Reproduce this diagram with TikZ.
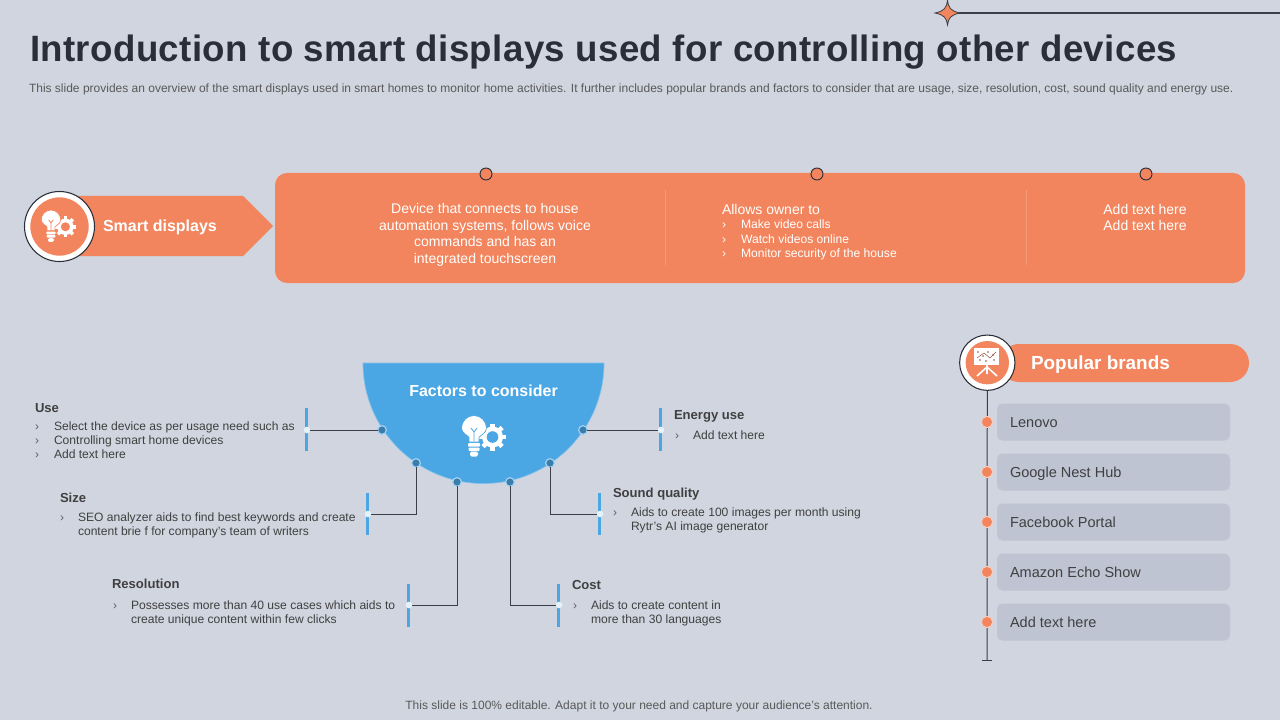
\documentclass[tikz,border=0pt]{standalone}
\usepackage{fontspec}
\setmainfont{Liberation Sans}
\definecolor{bgc}{HTML}{D0D5DF}
\definecolor{orangec}{HTML}{F2855D}
\definecolor{bluec}{HTML}{4BA6E4}
\definecolor{greyc}{HTML}{BEC4D2}
\definecolor{darkc}{HTML}{2A2E38}
\definecolor{linec}{HTML}{3A3F48}
\definecolor{textc}{HTML}{404040}
\definecolor{subc}{HTML}{595959}
\newcommand{\fs}[1]{\fontsize{#1}{#1}\selectfont}
\newcommand{\bulbgear}[4]{%
\begin{scope}[shift={(#1,#2)},scale=#3]
 \fill[white] (9.5,1) circle (10.5);
 \foreach \a in {0,45,...,315}{\fill[white,rotate around={\a:(9.5,1)}] (7.2,-12.5) rectangle (11.8,-7);}
 \fill[#4] (9.5,1) circle (5.8);
 \fill[white,draw=#4,line width=.5pt] (-4,6) -- (-14,6) -- (-14,1.5) .. controls (-14.5,-.5) and (-21.5,-2.5) .. (-21.5,-8) .. controls (-21.5,-15) and (-15.5,-20.5) .. (-9,-20.5) .. controls (-2.5,-20.5) and (3.5,-15) .. (3.5,-8) .. controls (3.5,-2.5) and (-3.5,-.5) .. (-4,1.5) -- cycle;
 \draw[#4,line width=.6pt] (-12,-8) -- (-9,-4) -- (-6,-8) (-9,-4) -- (-9,5);
 \fill[white,rounded corners=.6pt] (-15,7.2) rectangle (-3,10.6);
 \fill[white,rounded corners=.6pt] (-14.5,11.5) rectangle (-3.5,15);
 \fill[white,rounded corners=1.2pt] (-13,15.5) rectangle (-5,20.5);
\end{scope}}
\tikzset{
 x=.75pt,y=-.75pt,
 every node/.style={inner sep=0pt,outer sep=0pt},
 stdline/.style={text height=6.5pt,text depth=0pt},
 body/.style={font=\fs{9.07},text=textc,anchor=west,align=left},
 bodysingle/.style={body,stdline},
 bodyline/.style={body,font=\fontsize{9.07}{10.5}\selectfont},
 headtext/.style={font=\bfseries\fs{9.8},text=textc,anchor=west,text height=7pt,text depth=0pt},
 chev/.style={font=\fs{9},text=textc!85,anchor=west,stdline},
 whitetext/.style={font=\fontsize{10.5}{12.4}\selectfont,text=white,align=center},
 whitesmall/.style={font=\fs{9.1},text=white,anchor=west,stdline},
 barline/.style={bluec,line width=2.4pt},
 conn/.style={draw=linec,line width=.75pt},
 hub/.style={circle,minimum size=6.5pt,fill=bluec!75!black,draw=white!50!bluec,line width=.9pt},
 endpt/.style={circle,minimum size=5pt,fill=white!85!bluec},
 brandbox/.style={fill=greyc,rounded corners=4pt,minimum width=174.75pt,minimum height=27.75pt,anchor=west},
 brandtext/.style={font=\fs{10.9},text=textc,anchor=west,text height=7.8pt,text depth=0pt},
 branddot/.style={circle,minimum size=8.5pt,fill=orangec,draw=white!60!orangec,line width=.7pt},
 topdot/.style={circle,minimum size=9pt,fill=orangec,draw=darkc,line width=.7pt},
 sep/.style={draw=white!18!orangec,line width=.5pt},
}
\begin{document}
\begin{tikzpicture}
\useasboundingbox (0,0) rectangle (1280,720);
\fill[bgc] (0,0) rectangle (1280,720);
% top ornament
\coordinate (lineend) at (1280,13);
\node[inner sep=0pt,minimum size=1pt] (star) at (947,13) {};
\draw[linec,line width=.8pt] (star) -- (lineend);
\fill[orangec,draw=linec,line width=.6pt] (947.5,0) .. controls (948.5,8) and (950.5,11) .. (960,13) .. controls (950.5,15) and (948.5,18) .. (947.5,25) .. controls (946.5,18) and (944.5,15) .. (935,13) .. controls (944.5,11) and (946.5,8) .. cycle;
% title
\node[anchor=west,font={\addfontfeature{LetterSpace=1}\bfseries\fs{27.5}},text=darkc,text height=19.8pt,text depth=0pt] (title) at (30,48) {Introduction to smart displays used for controlling other devices};
\node[anchor=west,font=\fs{9},text=subc,stdline] (subtitle) at (29,88) {This slide provides an overview of the smart displays used in smart homes to monitor home activities. It further includes popular brands and factors to consider that are usage, size, resolution, cost, sound quality and energy use.};
% smart displays
\fill[orangec] (60,196) -- (243,196) -- (273,226) -- (243,256) -- (60,256) -- cycle;
\node[circle,minimum size=52.5pt,fill=white,draw=darkc,line width=.8pt] (sdring) at (59.5,226.5) {};
\node[circle,minimum size=43.75pt,fill=orangec] (sdcore) at (59.5,226.5) {};
\bulbgear{58}{226}{.78}{orangec}
\node[anchor=west,font=\bfseries\fs{12},text=white,text height=8.6pt,text depth=0pt] (sdlabel) at (103,226) {Smart displays};
% main panel
\node[fill=orangec,rounded corners=9pt,minimum width=727.5pt,minimum height=82.5pt,anchor=north west] (panel) at (275,173) {};
\draw[sep] (665,190) -- (665,265);
\draw[sep] (1026,190) -- (1026,265);
\node[topdot] (d1) at (486,174) {};
\node[topdot] (d2) at (817,174) {};
\node[topdot] (d3) at (1146,174) {};
\node[whitetext] (p1) at (485,235) {Device that connects to house\\automation systems, follows voice\\commands and has an\\integrated touchscreen};
\node[whitetext,anchor=west] (p2) at (722,209) {Allows owner to};
\node[whitesmall] (p2m1) at (722,224) {›};
\node[whitesmall] (p2t1) at (741,224) {Make video calls};
\node[whitesmall] (p2m2) at (722,239) {›};
\node[whitesmall] (p2t2) at (741,239) {Watch videos online};
\node[whitesmall] (p2m3) at (722,253) {›};
\node[whitesmall] (p2t3) at (741,253) {Monitor security of the house};
\node[whitetext] (p3) at (1145,217.5) {Add text here\\Add text here};
% factors
\fill[bluec,draw=white!30!bluec,line width=.5pt] (363,363) arc (180:0:120.5) -- cycle;
\node[font=\bfseries\fs{12},text=white] (factors) at (483.5,391) {Factors to consider};
\bulbgear{483}{436}{1}{bluec}
\node[hub] (h1) at (382,430) {};
\node[hub] (h2) at (416,463) {};
\node[hub] (h3) at (457,482) {};
\node[hub] (h4) at (510,482) {};
\node[hub] (h5) at (550,463) {};
\node[hub] (h6) at (583,430) {};
\draw[barline] (306.3,408) -- (306.3,451);
\draw[barline] (367.3,493) -- (367.3,535);
\draw[barline] (408.3,584) -- (408.3,627);
\draw[barline] (558.3,584) -- (558.3,627);
\draw[barline] (599.3,493) -- (599.3,535);
\draw[barline] (660.3,408) -- (660.3,451);
\node[endpt] (e1) at (307,430) {};
\node[endpt] (e2) at (368,514) {};
\node[endpt] (e3) at (409,605) {};
\node[endpt] (e4) at (559,605) {};
\node[endpt] (e5) at (600,514) {};
\node[endpt] (e6) at (661,430) {};
\draw[conn] (h1) -- (e1);
\draw[conn] (h2) |- (e2);
\draw[conn] (h3) |- (e3);
\draw[conn] (h4) |- (e4);
\draw[conn] (h5) |- (e5);
\draw[conn] (h6) -- (e6);
% Use
\node[headtext] (uh) at (35,407.5) {Use};
\node[chev] (um1) at (35,426) {›};
\node[chev] (um2) at (35,440) {›};
\node[chev] (um3) at (35,454) {›};
\node[bodysingle] (ut1) at (54,426) {Select the device as per usage need such as};
\node[bodysingle] (ut2) at (54,440) {Controlling smart home devices};
\node[bodysingle] (ut3) at (54,454) {Add text here};
% Size
\node[headtext] (sh) at (60,497.5) {Size};
\node[chev] (sm) at (60,517) {›};
\node[bodyline] (st) at (78,525) {SEO analyzer aids to find best keywords and create\\content brie f for company’s team of writers};
% Resolution
\node[headtext] (rh) at (112,583.5) {Resolution};
\node[chev] (rm) at (113,605) {›};
\node[bodyline] (rt) at (131,613) {Possesses more than 40 use cases which aids to\\create unique content within few clicks};
% Energy
\node[headtext] (eh) at (674,414.5) {Energy use};
\node[chev] (em) at (675,435) {›};
\node[bodysingle] (et) at (693,435) {Add text here};
% Sound
\node[headtext] (qh) at (613,492.5) {Sound quality};
\node[chev] (qm) at (613,512) {›};
\node[bodyline] (qt) at (631,520) {Aids to create 100 images per month using\\Rytr’s AI image generator};
% Cost
\node[headtext] (ch) at (572,584.5) {Cost};
\node[chev] (cm) at (573,605) {›};
\node[bodyline] (ct) at (591,613) {Aids to create content in\\more than 30 languages};
% brands
\node[fill=orangec,rounded corners=14.25pt,minimum width=186.75pt,minimum height=28.5pt,anchor=west] (pill) at (1000,363) {};
\coordinate (railend) at (987,660);
\node[circle,minimum size=41.5pt,fill=white,draw=darkc,line width=.8pt] (bring) at (987.3,362.7) {};
\draw[conn] (bring) -- (railend);
\coordinate (tickl) at (982,660);
\coordinate (tickr) at (992,660);
\draw[conn] (tickl) -- (tickr);
\node[circle,minimum size=32.5pt,fill=orangec] (bcore) at (987.3,362.7) {};
\fill[white] (974,348) rectangle (999,365);
\draw[white,line width=1.2pt] (987,364) -- (987,369) (987,367) -- (977,376) (987,367) -- (997,376) (987,367) -- (987,374);
\foreach \px/\py in {978/352,983/356,988/352,993/355,980/360,986/361,994/360}{\fill[orangec!60!black] (\px,\py) circle (.9);}
\draw[orangec!60!black,line width=.35pt] (977,358) -- (984,353) -- (990,358) -- (996,352);
\node[anchor=west,font=\bfseries\fs{14.2},text=white,text height=10.2pt,text depth=0pt] (pb) at (1031,363) {Popular brands};
\node[brandbox] (b1) at (997,422) {};
\node[brandbox] (b2) at (997,472) {};
\node[brandbox] (b3) at (997,522) {};
\node[brandbox] (b4) at (997,572) {};
\node[brandbox] (b5) at (997,622) {};
\node[branddot] (o1) at (987,422) {};
\node[branddot] (o2) at (987,472) {};
\node[branddot] (o3) at (987,522) {};
\node[branddot] (o4) at (987,572) {};
\node[branddot] (o5) at (987,622) {};
\node[brandtext] (t1) at (1010,422) {Lenovo};
\node[brandtext] (t2) at (1010,472) {Google Nest Hub};
\node[brandtext] (t3) at (1010,522) {Facebook Portal};
\node[brandtext] (t4) at (1010,572) {Amazon Echo Show};
\node[brandtext] (t5) at (1010,622) {Add text here};
% footer
\node[font=\fs{9},text=subc,stdline] (foot) at (639,705) {This slide is 100\% editable. Adapt it to your need and capture your audience’s attention.};
\end{tikzpicture}
\end{document}
